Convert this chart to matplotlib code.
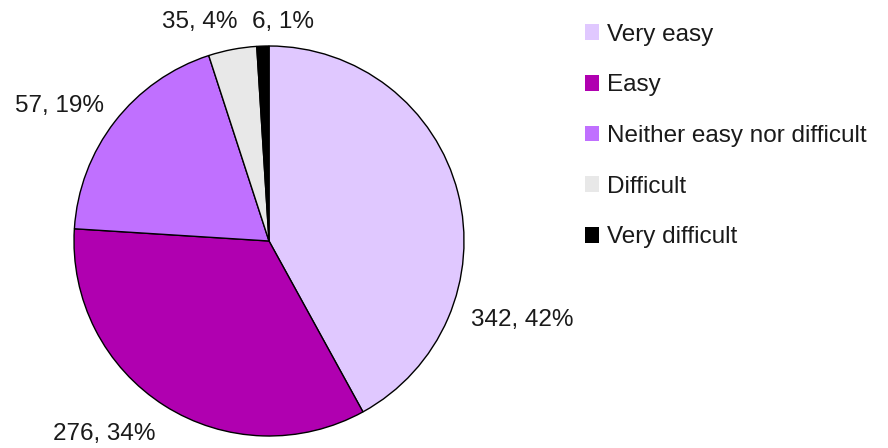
import matplotlib.pyplot as plt

# answers and counts as printed on the chart
categories = ["Very easy", "Easy", "Neither easy nor difficult", "Difficult", "Very difficult"]
counts = [342, 276, 57, 35, 6]
percents = [42, 34, 19, 4, 1]
colors = ["#E0C8FF", "#B000B0", "#C070FF", "#E8E8E8", "#000000"]

# where the data labels sit (pixels, top-left origin)
label_pos = [(522, 320), (104, 434), (59, 106), (200, 22), (283, 22)]

plt.rcParams['font.family'] = ['Liberation Sans', 'DejaVu Sans']

W, H = 888, 448
fig = plt.figure(figsize=(W / 100, H / 100), dpi=100)
ax = fig.add_axes([0, 0, 1, 1])

wedges, _ = ax.pie(percents, colors=colors, startangle=90, counterclock=False,
                   center=(269, H - 241), radius=195,
                   wedgeprops=dict(edgecolor="black", linewidth=1))
ax.set_xlim(0, W)
ax.set_ylim(0, H)
ax.set_aspect('equal')
ax.axis('off')

for n, p, (x, y) in zip(counts, percents, label_pos):
    ax.text(x, H - y, f"{n}, {p}%", ha='center', va='center', fontsize=17.5, color='#1a1a1a')

ax.legend(wedges, categories, loc='upper left', bbox_to_anchor=(575 / W, 1 - 14 / H),
          frameon=False, fontsize=17.5, handlelength=0.6, handleheight=0.6,
          handletextpad=0.3, labelspacing=1.18, borderaxespad=0, labelcolor='#1a1a1a')
for h in ax.get_legend().legend_handles:
    h.set_edgecolor('none')

fig.savefig("out.png", dpi=100)
